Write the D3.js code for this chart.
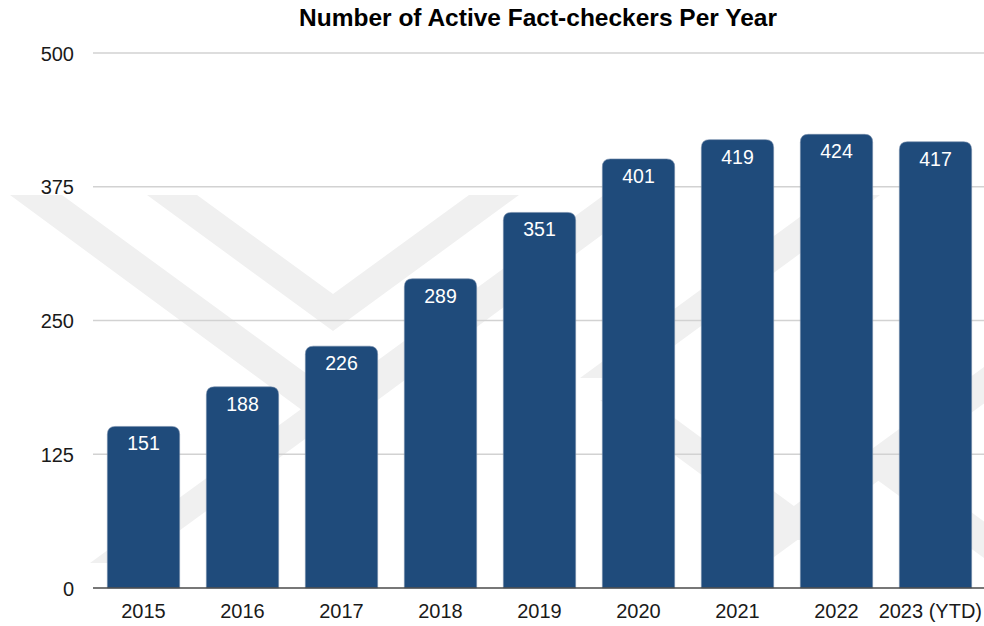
<!DOCTYPE html>
<html>
<head>
<meta charset="utf-8">
<script src="https://cdn.jsdelivr.net/npm/d3@7"></script>
<style>
  html, body { margin: 0; padding: 0; background: #ffffff; }
  svg { display: block; font-family: "Liberation Sans", Arial, Helvetica, sans-serif; }
</style>
</head>
<body>
<svg id="chart" width="984" height="626"></svg>
<script>
// ---- data ----
const title = "Number of Active Fact-checkers Per Year";
const categories = ["2015", "2016", "2017", "2018", "2019", "2020", "2021", "2022", "2023 (YTD)"];
const values = [151, 188, 226, 289, 351, 401, 419, 424, 417];
const yTicks = [0, 125, 250, 375, 500];
const yMax = 500;

// ---- layout ----
const W = 984, H = 626;
const svg = d3.select("#chart");

const x = d3.scaleBand()
  .domain(categories)
  .range([94, 985])
  .paddingInner(0.27)
  .paddingOuter(0.135);

const y = d3.scaleLinear()
  .domain([0, yMax])
  .range([588, 53]);

// ---- faint background watermark (decoration) ----
const wm = svg.append("g").attr("fill", "#f0f0f0");
function band(x0, y0, x1, y1, w) {
  return [[x0, y0], [x0 + w, y0], [x1 + w, y1], [x1, y1]];
}
const wmShapes = [
  [[147, 195], [197, 195], [333, 294], [469, 195], [519, 195], [333, 331]],
  [[10, 195], [62, 195], [333, 393], [604, 195], [656, 195], [333, 433]],
  band(90, 563, 330, 388, 45),
  band(600, 400, 790, 540, 50),
  band(830, 195, 580, 378, 50),
  band(720, 560, 984, 367, 50),
  band(850, 460, 984, 558, 50)
];
wm.selectAll("polygon").data(wmShapes).join("polygon")
  .attr("points", d => d.map(p => p.join(",")).join(" "));

// ---- gridlines ----
svg.append("g")
  .selectAll("line")
  .data(yTicks.filter(t => t > 0))
  .join("line")
  .attr("x1", 93).attr("x2", W)
  .attr("y1", d => y(d)).attr("y2", d => y(d))
  .attr("stroke", "#d2d2d2")
  .attr("stroke-width", 1.5);

// ---- y axis labels ----
const yAxis = d3.axisLeft(y).tickValues(yTicks).tickSize(0).tickPadding(0);
const yG = svg.append("g").attr("transform", "translate(74,0)").call(yAxis);
yG.select(".domain").remove();
yG.selectAll("text")
  .attr("font-size", 20)
  .attr("font-family", "Liberation Sans, Arial, sans-serif")
  .attr("fill", "#1a1a1a")
  .attr("dy", "0.36em");

// ---- bars with rounded tops ----
const r = 8;
function barPath(x0, w, yTop, yBot) {
  const rr = Math.min(r, (yBot - yTop));
  return `M${x0},${yBot}V${yTop + rr}Q${x0},${yTop} ${x0 + rr},${yTop}H${x0 + w - rr}Q${x0 + w},${yTop} ${x0 + w},${yTop + rr}V${yBot}Z`;
}
const data = categories.map((c, i) => ({ c, v: values[i] }));
svg.append("g")
  .selectAll("path")
  .data(data)
  .join("path")
  .attr("d", d => barPath(x(d.c), x.bandwidth(), y(d.v), y(0)))
  .attr("fill", "#1f4b7b")
  .attr("stroke", "#6f87a6")
  .attr("stroke-width", 0.6);

// ---- value labels ----
svg.append("g")
  .selectAll("text")
  .data(data)
  .join("text")
  .attr("x", d => x(d.c) + x.bandwidth() / 2)
  .attr("y", d => y(d.v) + 24)
  .attr("text-anchor", "middle")
  .attr("font-size", 19.5)
  .attr("fill", "#ffffff")
  .text(d => d.v);

// ---- x axis ----
const xAxis = d3.axisBottom(x).tickSize(0).tickPadding(0);
const xG = svg.append("g").attr("transform", `translate(0,${y(0)})`).call(xAxis);
xG.select(".domain").remove();
xG.selectAll("text")
  .attr("font-size", 20)
  .attr("font-family", "Liberation Sans, Arial, sans-serif")
  .attr("fill", "#1a1a1a")
  .attr("dy", 0)
  .attr("y", 29.5);
// keep the last label inside the picture
xG.selectAll(".tick").each(function (d) {
  const t = d3.select(this).select("text");
  const len = t.node().getComputedTextLength();
  const cx = x(d) + x.bandwidth() / 2;
  const overflow = cx + len / 2 - (W - 2);
  if (overflow > 0) t.attr("x", -overflow);
});
svg.append("line")
  .attr("x1", 93).attr("x2", W)
  .attr("y1", y(0)).attr("y2", y(0))
  .attr("stroke", "#4a4a4a")
  .attr("stroke-width", 1.5);

// ---- title ----
svg.append("text")
  .attr("x", 538)
  .attr("y", 26)
  .attr("text-anchor", "middle")
  .attr("font-size", 24.5)
  .attr("font-weight", "bold")
  .attr("fill", "#000")
  .text(title);
</script>
</body>
</html>
